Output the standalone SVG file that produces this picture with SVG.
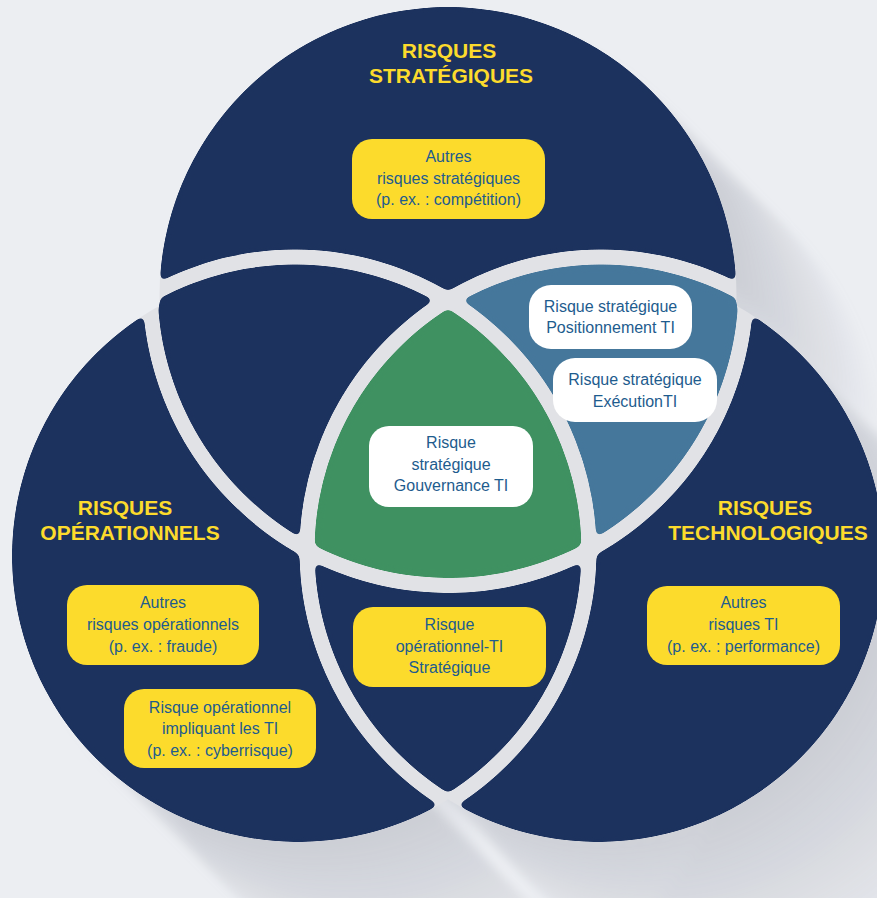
<svg xmlns="http://www.w3.org/2000/svg" width="877" height="898" viewBox="0 0 877 898">
<defs>
<style>
.t{font-family:"Liberation Sans",Arial,sans-serif;font-size:16px;fill:#1e5c8e;text-anchor:middle}
.h{font-family:"Liberation Sans",Arial,sans-serif;font-size:21px;font-weight:bold;fill:#fcdb2c;text-anchor:middle}
.yb{fill:#fcdb2c}
.wb{fill:#ffffff}
</style>
<clipPath id="cU"><circle cx="448" cy="295.5" r="288.5"/><circle cx="298" cy="556" r="286"/><circle cx="598" cy="556" r="286"/></clipPath>
<clipPath id="cLoRo"><circle cx="298" cy="556" r="286"/><circle cx="598" cy="556" r="286"/></clipPath>
<clipPath id="cToRo"><circle cx="448" cy="295.5" r="288.5"/><circle cx="598" cy="556" r="286"/></clipPath>
<clipPath id="cToLo"><circle cx="448" cy="295.5" r="288.5"/><circle cx="298" cy="556" r="286"/></clipPath>
<clipPath id="cLb"><circle cx="295" cy="551" r="294"/></clipPath>
<clipPath id="cRb"><circle cx="601" cy="551" r="294"/></clipPath>
<g id="bandlines" fill="none" stroke="#000" stroke-width="15">
<circle cx="448" cy="287.5" r="298" clip-path="url(#cLoRo)"/>
<circle cx="295" cy="551" r="294" clip-path="url(#cToRo)"/>
<circle cx="601" cy="551" r="294" clip-path="url(#cToLo)"/>
</g>
<mask id="bands" maskUnits="userSpaceOnUse" x="-200" y="-200" width="1300" height="1300">
<rect x="-200" y="-200" width="1300" height="1300" fill="#fff"/>
<use href="#bandlines"/>
</mask>
<mask id="navmask" maskUnits="userSpaceOnUse" x="-200" y="-200" width="1300" height="1300">
<rect x="-200" y="-200" width="1300" height="1300" fill="#fff"/>
<use href="#bandlines"/>
<circle cx="448" cy="287.5" r="298" fill="#000" clip-path="url(#cRb)"/>
</mask>
<mask id="notL" maskUnits="userSpaceOnUse" x="-200" y="-200" width="1300" height="1300">
<rect x="-200" y="-200" width="1300" height="1300" fill="#fff"/>
<circle cx="295" cy="551" r="294" fill="#000"/>
</mask>
<filter id="goo" filterUnits="userSpaceOnUse" x="-100" y="-100" width="1100" height="1100" color-interpolation-filters="sRGB">
<feGaussianBlur stdDeviation="3.2"/>
<feColorMatrix values="1 0 0 0 0  0 1 0 0 0  0 0 1 0 0  0 0 0 12 -5.5"/>
</filter>
<filter id="soft" filterUnits="userSpaceOnUse" x="-100" y="-100" width="1200" height="1200">
<feGaussianBlur stdDeviation="4"/>
</filter>
<g id="blob" mask="url(#bands)" fill="#a0a4ae">
<circle cx="448" cy="295.5" r="288.5"/>
<circle cx="298" cy="556" r="286"/>
<circle cx="598" cy="556" r="286"/>
</g>
</defs>

<rect width="877" height="898" fill="#eceef2"/>

<g id="shadow" filter="url(#soft)">
<use href="#blob" x="9" y="9" opacity="0.026"/>
<use href="#blob" x="18" y="18" opacity="0.026"/>
<use href="#blob" x="27" y="27" opacity="0.026"/>
<use href="#blob" x="36" y="36" opacity="0.026"/>
<use href="#blob" x="45" y="45" opacity="0.026"/>
<use href="#blob" x="54" y="54" opacity="0.026"/>
<use href="#blob" x="63" y="63" opacity="0.026"/>
<use href="#blob" x="72" y="72" opacity="0.026"/>
<use href="#blob" x="81" y="81" opacity="0.026"/>
<use href="#blob" x="90" y="90" opacity="0.026"/>
<use href="#blob" x="99" y="99" opacity="0.026"/>
<use href="#blob" x="108" y="108" opacity="0.026"/>
<use href="#blob" x="117" y="117" opacity="0.026"/>
<use href="#blob" x="126" y="126" opacity="0.026"/>
<use href="#blob" x="135" y="135" opacity="0.026"/>
<use href="#blob" x="144" y="144" opacity="0.026"/>
</g>

<g id="bands-underlay" fill="#e1e2e6">
<circle cx="448" cy="295.5" r="288.5"/>
<circle cx="298" cy="556" r="286"/>
<circle cx="598" cy="556" r="286"/>
</g>

<g id="navy-regions" filter="url(#goo)">
<g mask="url(#navmask)" fill="#1c325e">
<circle cx="448" cy="295.5" r="288.5"/>
<circle cx="298" cy="556" r="286"/>
<circle cx="598" cy="556" r="286"/>
</g>
</g>

<g id="blue-region" filter="url(#goo)">
<g mask="url(#bands)">
<g mask="url(#notL)">
<g clip-path="url(#cU)">
<g clip-path="url(#cRb)">
<circle cx="448" cy="287.5" r="298" fill="#45779b"/>
</g>
</g>
</g>
</g>
</g>

<g id="green-region" filter="url(#goo)">
<g mask="url(#bands)">
<g clip-path="url(#cLb)">
<g clip-path="url(#cRb)">
<circle cx="448" cy="287.5" r="298" fill="#3f9161"/>
</g>
</g>
</g>
</g>

<g id="connectors"></g>

<g id="title-strategiques">
<text class="h" x="449" y="58">RISQUES</text>
<text class="h" x="451" y="83">STRATÉGIQUES</text>
</g>
<g id="title-operationnels">
<text class="h" x="125" y="515">RISQUES</text>
<text class="h" x="130" y="540">OPÉRATIONNELS</text>
</g>
<g id="title-technologiques">
<text class="h" x="765" y="515">RISQUES</text>
<text class="h" x="768" y="540">TECHNOLOGIQUES</text>
</g>

<g id="autres-strategiques">
<rect class="yb" x="352" y="139" width="193" height="80" rx="20"/>
<text class="t" x="448.5" y="162">Autres</text>
<text class="t" x="448.5" y="184">risques stratégiques</text>
<text class="t" x="448.5" y="205">(p. ex. : compétition)</text>
</g>

<g id="positionnement-ti">
<rect class="wb" x="529" y="285" width="163" height="64" rx="22"/>
<text class="t" x="610.5" y="312">Risque stratégique</text>
<text class="t" x="610.5" y="333">Positionnement TI</text>
</g>

<g id="execution-ti">
<rect class="wb" x="553" y="358" width="164" height="64" rx="22"/>
<text class="t" x="635" y="385">Risque stratégique</text>
<text class="t" x="635" y="407">ExécutionTI</text>
</g>

<g id="gouvernance-ti">
<rect class="wb" x="369" y="426" width="164" height="81" rx="20"/>
<text class="t" x="451" y="448">Risque</text>
<text class="t" x="451" y="470">stratégique</text>
<text class="t" x="451" y="491">Gouvernance TI</text>
</g>

<g id="operationnel-ti-strategique">
<rect class="yb" x="353" y="607" width="193" height="80" rx="20"/>
<text class="t" x="449.5" y="630">Risque</text>
<text class="t" x="449.5" y="652">opérationnel-TI</text>
<text class="t" x="449.5" y="673">Stratégique</text>
</g>

<g id="autres-operationnels">
<rect class="yb" x="67" y="585" width="192" height="80" rx="20"/>
<text class="t" x="163" y="608">Autres</text>
<text class="t" x="163" y="630">risques opérationnels</text>
<text class="t" x="163" y="652">(p. ex. : fraude)</text>
</g>

<g id="operationnel-impliquant-ti">
<rect class="yb" x="124" y="689" width="192" height="79" rx="20"/>
<text class="t" x="220" y="713">Risque opérationnel</text>
<text class="t" x="220" y="734">impliquant les TI</text>
<text class="t" x="220" y="756">(p. ex. : cyberrisque)</text>
</g>

<g id="autres-ti">
<rect class="yb" x="647" y="586" width="193" height="79" rx="20"/>
<text class="t" x="743.5" y="608">Autres</text>
<text class="t" x="743.5" y="630">risques TI</text>
<text class="t" x="743.5" y="652">(p. ex. : performance)</text>
</g>
</svg>
